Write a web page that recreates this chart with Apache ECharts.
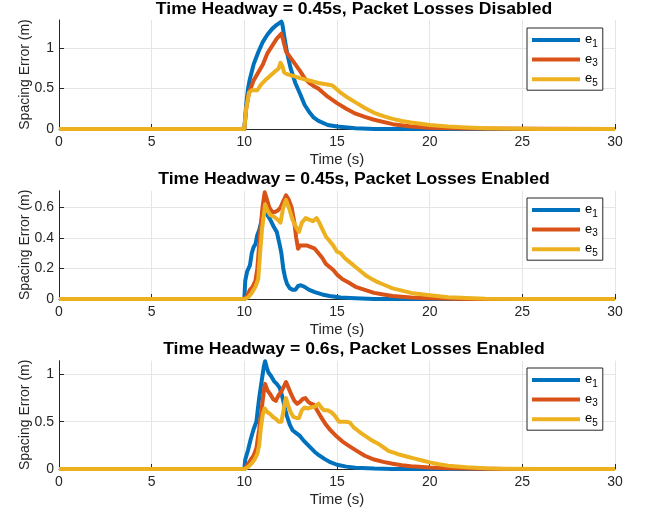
<!DOCTYPE html>
<html><head><meta charset="utf-8">
<script src="https://cdn.jsdelivr.net/npm/echarts@6/dist/echarts.min.js"></script>
<style>html,body{margin:0;padding:0;background:#fff}#c{width:647px;height:515px}</style>
</head><body><div id="c"></div><script>
const titles = ['Time Headway = 0.45s, Packet Losses Disabled', 'Time Headway = 0.45s, Packet Losses Enabled', 'Time Headway = 0.6s, Packet Losses Enabled'];
const seriesNames = ['e1', 'e3', 'e5'];
const colors = ['#0072BD', '#D95319', '#EDB120'];
const xTicks = [0, 5, 10, 15, 20, 25, 30];
const yTicks1 = [0, 0.5, 1];
const yTicks2 = [0, 0.2, 0.4, 0.6];
const yTicks3 = [0, 0.5, 1];
const yMax = [1.35, 0.71, 1.145];

// Subplot 1: packet losses disabled, h = 0.45 s
const p1_e1_t = [0, 10, 10.1, 10.2, 10.3, 10.5, 10.75, 11.0, 11.25, 11.5, 11.75, 12.0, 12.05, 12.15, 12.3, 12.5, 12.75, 13.0, 13.25, 13.5, 13.75, 14.0, 14.5, 15, 16, 17, 30];
const p1_e1_v = [0, 0, 0.3, 0.5, 0.62, 0.8, 0.95, 1.08, 1.17, 1.24, 1.29, 1.33, 1.3, 1.15, 0.95, 0.75, 0.57, 0.44, 0.3, 0.21, 0.14, 0.1, 0.05, 0.03, 0.01, 0, 0];
const p1_e3_t = [0, 10, 10.1, 10.25, 10.5, 10.75, 11.0, 11.25, 11.5, 11.75, 12.0, 12.1, 12.25, 12.5, 12.75, 13.0, 13.25, 13.5, 13.75, 14.0, 14.25, 14.5, 15, 15.5, 16, 16.5, 17, 18, 19, 20, 22, 30];
const p1_e3_v = [0, 0, 0.25, 0.45, 0.6, 0.7, 0.8, 0.94, 1.03, 1.12, 1.18, 1.1, 0.96, 0.88, 0.8, 0.72, 0.63, 0.57, 0.53, 0.5, 0.45, 0.4, 0.32, 0.25, 0.19, 0.15, 0.115, 0.06, 0.03, 0.015, 0.005, 0];
const p1_e5_t = [0, 10, 10.1, 10.25, 10.4, 10.7, 10.9, 11.2, 11.5, 11.7, 11.85, 11.95, 12.05, 12.15, 12.3, 12.6, 13.0, 13.5, 14.0, 14.5, 14.75, 15.0, 15.25, 15.5, 16, 16.5, 17, 17.5, 18, 18.5, 19, 20, 21, 22, 23, 24, 26, 30];
const p1_e5_v = [0, 0, 0.25, 0.45, 0.48, 0.48, 0.55, 0.62, 0.68, 0.72, 0.75, 0.82, 0.78, 0.7, 0.68, 0.66, 0.63, 0.6, 0.57, 0.55, 0.54, 0.49, 0.44, 0.4, 0.33, 0.26, 0.2, 0.16, 0.125, 0.1, 0.08, 0.05, 0.03, 0.018, 0.01, 0.005, 0, 0];

// Subplot 2: packet losses enabled, h = 0.45 s
const p2_e1_t = [0, 10, 10.05, 10.15, 10.3, 10.4, 10.5, 10.6, 10.7, 10.8, 10.9, 11.0, 11.1, 11.25, 11.4, 11.6, 11.75, 11.9, 12.0, 12.1, 12.2, 12.3, 12.45, 12.6, 12.75, 12.9, 13.05, 13.25, 13.5, 13.8, 14.2, 14.6, 15.2, 16, 17, 30];
const p2_e1_v = [0, 0, 0.12, 0.18, 0.22, 0.3, 0.34, 0.36, 0.42, 0.45, 0.5, 0.55, 0.57, 0.55, 0.52, 0.47, 0.44, 0.36, 0.3, 0.2, 0.14, 0.1, 0.07, 0.06, 0.06, 0.085, 0.09, 0.08, 0.06, 0.045, 0.03, 0.02, 0.01, 0.005, 0, 0];
const p2_e3_t = [0, 10, 10.15, 10.3, 10.45, 10.6, 10.7, 10.8, 10.9, 11.0, 11.1, 11.2, 11.35, 11.5, 11.65, 11.8, 11.95, 12.1, 12.25, 12.4, 12.55, 12.7, 12.8, 12.9, 13.0, 13.2, 13.4, 13.6, 13.8, 14.0, 14.2, 14.4, 14.6, 14.8, 15.0, 15.3, 15.6, 16, 16.5, 17, 17.5, 18, 19, 20, 22, 30];
const p2_e3_v = [0, 0, 0.02, 0.06, 0.08, 0.12, 0.2, 0.35, 0.5, 0.62, 0.7, 0.66, 0.6, 0.57, 0.57, 0.58, 0.6, 0.64, 0.68, 0.65, 0.6, 0.5, 0.4, 0.33, 0.35, 0.35, 0.35, 0.34, 0.33, 0.3, 0.27, 0.23, 0.21, 0.19, 0.16, 0.13, 0.11, 0.08, 0.06, 0.04, 0.03, 0.02, 0.01, 0.005, 0, 0];
const p2_e5_t = [0, 10, 10.2, 10.4, 10.6, 10.75, 10.85, 10.95, 11.05, 11.12, 11.25, 11.4, 11.6, 11.8, 11.95, 12.1, 12.25, 12.4, 12.6, 12.8, 12.95, 13.1, 13.3, 13.5, 13.7, 13.9, 14.05, 14.2, 14.4, 14.6, 14.8, 15.0, 15.2, 15.4, 15.6, 15.8, 16.0, 16.3, 16.6, 16.9, 17.2, 17.6, 18, 18.5, 19, 20, 21, 22, 23, 25, 30];
const p2_e5_v = [0, 0, 0.01, 0.04, 0.08, 0.13, 0.3, 0.45, 0.55, 0.62, 0.58, 0.55, 0.54, 0.52, 0.5, 0.6, 0.65, 0.6, 0.52, 0.47, 0.44, 0.5, 0.53, 0.52, 0.51, 0.53, 0.5, 0.46, 0.41, 0.38, 0.35, 0.31, 0.3, 0.27, 0.25, 0.23, 0.21, 0.18, 0.15, 0.13, 0.11, 0.09, 0.07, 0.055, 0.04, 0.025, 0.012, 0.006, 0.002, 0, 0];

// Subplot 3: packet losses enabled, h = 0.6 s
const p3_e1_t = [0, 10, 10.05, 10.2, 10.35, 10.5, 10.65, 10.8, 10.95, 11.05, 11.12, 11.2, 11.3, 11.45, 11.6, 11.75, 11.9, 12.0, 12.1, 12.2, 12.3, 12.45, 12.6, 12.8, 13.0, 13.2, 13.4, 13.6, 13.8, 14.0, 14.3, 14.6, 15, 15.5, 16, 17, 18, 30];
const p3_e1_v = [0, 0, 0.1, 0.2, 0.32, 0.42, 0.5, 0.75, 0.95, 1.08, 1.14, 1.08, 1.02, 0.98, 0.93, 0.9, 0.86, 0.8, 0.72, 0.63, 0.56, 0.47, 0.41, 0.38, 0.35, 0.3, 0.26, 0.22, 0.18, 0.15, 0.11, 0.075, 0.045, 0.025, 0.013, 0.004, 0, 0];
const p3_e3_t = [0, 10, 10.2, 10.35, 10.5, 10.65, 10.8, 10.95, 11.05, 11.12, 11.25, 11.4, 11.55, 11.7, 11.85, 12.0, 12.15, 12.25, 12.4, 12.55, 12.7, 12.85, 13.0, 13.15, 13.3, 13.45, 13.6, 13.75, 13.9, 14.05, 14.2, 14.4, 14.6, 14.8, 15.0, 15.3, 15.6, 16, 16.5, 17, 17.5, 18, 18.5, 19, 20, 21, 22, 24, 30];
const p3_e3_v = [0, 0, 0.05, 0.1, 0.14, 0.22, 0.42, 0.66, 0.82, 0.9, 0.83, 0.79, 0.74, 0.72, 0.78, 0.82, 0.88, 0.92, 0.85, 0.78, 0.72, 0.69, 0.71, 0.74, 0.75, 0.71, 0.69, 0.68, 0.63, 0.58, 0.53, 0.47, 0.42, 0.38, 0.34, 0.29, 0.25, 0.2, 0.14, 0.1, 0.075, 0.055, 0.04, 0.03, 0.016, 0.008, 0.004, 0, 0];
const p3_e5_t = [0, 10, 10.2, 10.4, 10.55, 10.7, 10.8, 10.9, 11.0, 11.1, 11.25, 11.4, 11.55, 11.7, 11.85, 12.0, 12.1, 12.2, 12.25, 12.35, 12.5, 12.65, 12.8, 12.95, 13.1, 13.25, 13.45, 13.6, 13.8, 14.0, 14.15, 14.3, 14.5, 14.7, 14.9, 15.1, 15.3, 15.5, 15.7, 15.9, 16.1, 16.3, 16.6, 16.9, 17.2, 17.5, 17.8, 18.1, 18.4, 18.8, 19.2, 19.6, 20, 20.5, 21, 22, 23, 24, 26, 30];
const p3_e5_v = [0, 0, 0.02, 0.06, 0.1, 0.16, 0.25, 0.45, 0.58, 0.64, 0.6, 0.58, 0.55, 0.53, 0.5, 0.5, 0.6, 0.72, 0.75, 0.68, 0.6, 0.55, 0.54, 0.54, 0.62, 0.65, 0.64, 0.65, 0.66, 0.69, 0.65, 0.62, 0.62, 0.6, 0.56, 0.5, 0.5, 0.5, 0.49, 0.44, 0.41, 0.38, 0.34, 0.3, 0.27, 0.23, 0.19, 0.17, 0.15, 0.13, 0.11, 0.09, 0.07, 0.05, 0.035, 0.018, 0.008, 0.003, 0, 0];

const panels = [
  [[p1_e1_t, p1_e1_v], [p1_e3_t, p1_e3_v], [p1_e5_t, p1_e5_v]],
  [[p2_e1_t, p2_e1_v], [p2_e3_t, p2_e3_v], [p2_e5_t, p2_e5_v]],
  [[p3_e1_t, p3_e1_v], [p3_e3_t, p3_e3_v], [p3_e5_t, p3_e5_v]]
];
const yTicks = [yTicks1, yTicks2, yTicks3];

const FONT = 'Liberation Sans';
const INK = '#262626';
const gridTops = [20, 190.7, 360.7];
const gridHeights = [109, 108.3, 108.3];
const titleYs = [9.5, 180, 350];
const legendTops = [28, 198, 368];

const chart = echarts.init(document.getElementById('c'), null, {renderer: 'canvas'});

const grid = [], xAxis = [], yAxis = [], series = [], legend = [], graphic = [];
for (let g = 0; g < 3; g++) {
  grid.push({left: 59, width: 556, top: gridTops[g], height: gridHeights[g], outerBoundsMode: 'none', containLabel: false});
  xAxis.push({
    type: 'value', gridIndex: g, min: 0, max: 30, interval: 5,
    name: 'Time (s)', nameLocation: 'middle', nameGap: 23, nameMoveOverlap: false,
    nameTextStyle: {fontFamily: FONT, fontSize: 15, color: INK},
    axisLine: {show: true, onZero: false, lineStyle: {color: INK, width: 1}},
    axisTick: {show: true, inside: true, length: 5, lineStyle: {color: INK}},
    axisLabel: {fontFamily: FONT, fontSize: 14, color: INK, margin: 6},
    splitLine: {show: true, showMinLine: false, lineStyle: {color: '#e5e5e5', width: 1}}
  });
  yAxis.push({
    type: 'value', gridIndex: g, min: 0, max: yMax[g], interval: yTicks[g][1],
    name: 'Spacing Error (m)', nameLocation: 'middle', nameGap: 27, nameMoveOverlap: false,
    nameTextStyle: {fontFamily: FONT, fontSize: 14, color: INK},
    axisLine: {show: true, onZero: false, lineStyle: {color: INK, width: 1}},
    axisTick: {show: true, inside: true, length: 5, lineStyle: {color: INK}, customValues: yTicks[g]},
    axisLabel: {fontFamily: FONT, fontSize: 14, color: INK, margin: 5, customValues: yTicks[g]},
    splitLine: {show: true, showMinLine: false, lineStyle: {color: '#e5e5e5', width: 1}}
  });
  panels[g].forEach((pair, k) => {
    const [ts, vs] = pair;
    series.push({
      type: 'line', name: seriesNames[k], xAxisIndex: g, yAxisIndex: g,
      data: ts.map((t, i) => [t, vs[i]]),
      showSymbol: false, symbol: 'none', smooth: false,
      lineStyle: {color: colors[k], width: 4, join: 'round', cap: 'butt'},
      itemStyle: {color: colors[k]},
      z: 2 + k, animation: false
    });
  });
  legend.push({
    data: seriesNames, orient: 'vertical', left: 527, top: legendTops[g],
    padding: [3, 5, 2, 5], itemGap: 1.6, itemWidth: 48, itemHeight: 4, icon: 'rect',
    borderColor: INK, borderWidth: 1, backgroundColor: '#fff', selectedMode: false,
    formatter: name => '{e|e}{s|' + name.substring(1) + '}',
    textStyle: {
      fontFamily: FONT, color: '#000',
      rich: {
        e: {fontFamily: FONT, fontSize: 13, color: '#000', verticalAlign: 'top', lineHeight: 18, padding: [2, 0, 0, 0]},
        s: {fontFamily: FONT, fontSize: 10, color: '#000', verticalAlign: 'bottom', lineHeight: 18}
      }
    }
  });
  graphic.push({
    type: 'text', x: 354, y: titleYs[g], scaleX: 1.1,
    style: {text: titles[g], x: 0, y: 0, textAlign: 'center', textVerticalAlign: 'middle',
      font: 'bold 16px "Liberation Sans"', fill: '#000'}
  });
}

chart.setOption({
  animation: false,
  backgroundColor: '#fff',
  grid, xAxis, yAxis, series, legend, graphic
});
</script></body></html>
